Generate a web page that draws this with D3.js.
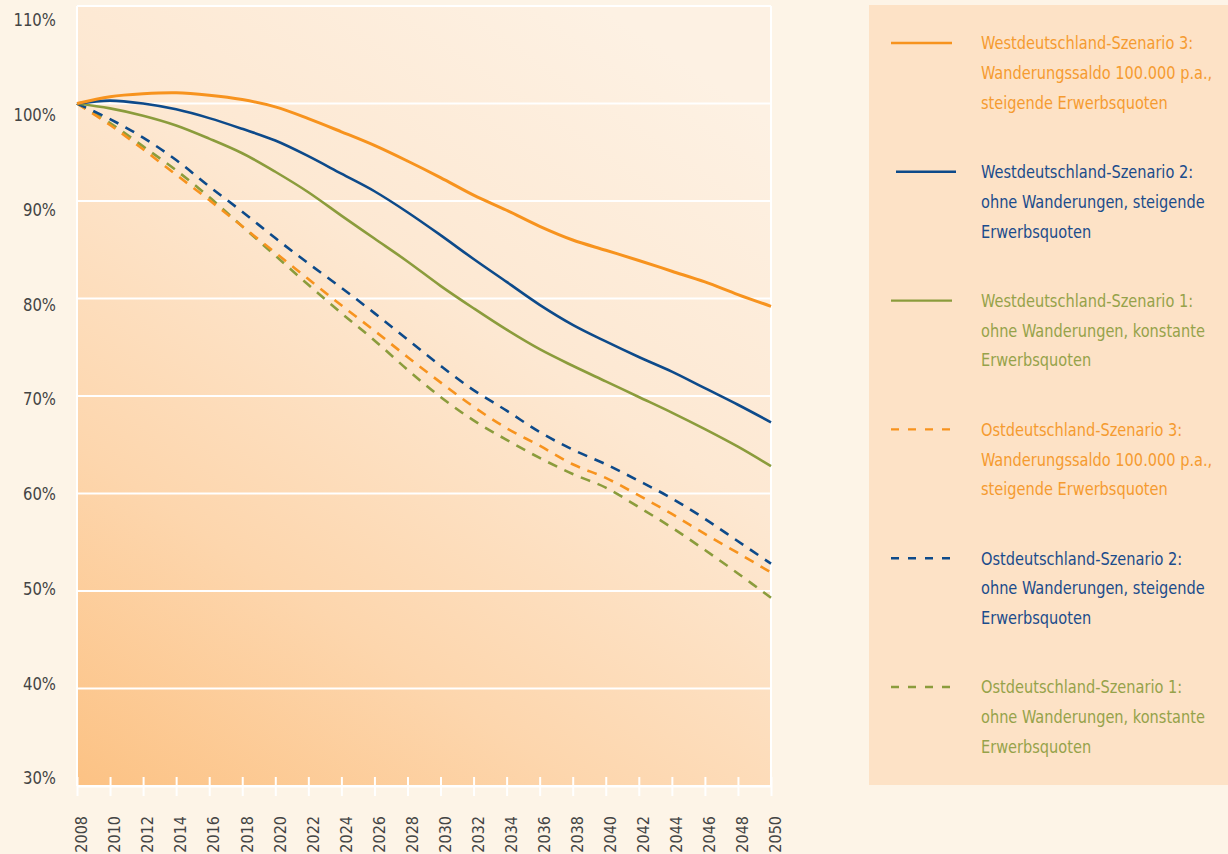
<!DOCTYPE html>
<html>
<head>
<meta charset="utf-8">
<script src="https://cdn.jsdelivr.net/npm/d3@7"></script>
<style>
  html, body { margin: 0; padding: 0; background: #fdf4e7; }
  svg { display: block; }
  text { font-family: "DejaVu Sans Condensed", "Liberation Sans Narrow", "Roboto", sans-serif; }
</style>
</head>
<body>
<svg id="chart" width="1228" height="854"></svg>
<script>
// ---- data ----
const years = [2008, 2010, 2012, 2014, 2016, 2018, 2020, 2022, 2024, 2026, 2028,
               2030, 2032, 2034, 2036, 2038, 2040, 2042, 2044, 2046, 2048, 2050];
const westS3 = [100.0, 100.7, 101.0, 101.1, 100.85, 100.4, 99.65, 98.45, 97.1, 95.7, 94.1,
                92.4, 90.6, 89.05, 87.4, 86.0, 84.95, 83.9, 82.8, 81.7, 80.4, 79.2];
const westS2 = [100.0, 100.3, 100.0, 99.4, 98.5, 97.4, 96.2, 94.6, 92.8, 91.0, 88.85,
                86.5, 84.05, 81.7, 79.35, 77.3, 75.6, 74.0, 72.5, 70.8, 69.1, 67.3];
const westS1 = [100.0, 99.5, 98.75, 97.75, 96.4, 94.9, 93.0, 90.9, 88.5, 86.15, 83.8,
                81.3, 79.0, 76.8, 74.8, 73.1, 71.5, 69.9, 68.3, 66.6, 64.8, 62.8];
const ostS3  = [100.0, 97.8, 95.3, 92.7, 90.1, 87.4, 84.7, 82.0, 79.3, 76.7, 74.0,
                71.4, 68.9, 66.7, 64.9, 63.0, 61.6, 59.8, 57.9, 55.85, 53.9, 51.9];
const ostS2  = [100.0, 98.4, 96.5, 94.2, 91.5, 88.9, 86.2, 83.6, 81.1, 78.5, 75.8,
                73.1, 70.6, 68.5, 66.3, 64.5, 63.0, 61.3, 59.5, 57.4, 55.1, 52.8];
const ostS1  = [100.0, 98.0, 95.6, 93.15, 90.4, 87.4, 84.4, 81.4, 78.5, 75.7, 72.7,
                69.9, 67.5, 65.5, 63.65, 62.0, 60.6, 58.6, 56.5, 54.2, 51.8, 49.3];
const yTicks = [30, 40, 50, 60, 70, 80, 90, 100, 110];
const yTickLabels = ["30%", "40%", "50%", "60%", "70%", "80%", "90%", "100%", "110%"];
const xTickLabels = years.map(String);
const seriesNames = [
  ["Westdeutschland-Szenario 3:", "Wanderungssaldo 100.000 p.a.,", "steigende Erwerbsquoten"],
  ["Westdeutschland-Szenario 2:", "ohne Wanderungen, steigende", "Erwerbsquoten"],
  ["Westdeutschland-Szenario 1:", "ohne Wanderungen, konstante", "Erwerbsquoten"],
  ["Ostdeutschland-Szenario 3:", "Wanderungssaldo 100.000 p.a.,", "steigende Erwerbsquoten"],
  ["Ostdeutschland-Szenario 2:", "ohne Wanderungen, steigende", "Erwerbsquoten"],
  ["Ostdeutschland-Szenario 1:", "ohne Wanderungen, konstante", "Erwerbsquoten"]
];
const seriesValues = [westS3, westS2, westS1, ostS3, ostS2, ostS1];

// ---- styles ----
const ORANGE = "#f7931e", BLUE = "#0d4a8a", GREEN = "#8b9c3c";
const textColors = ["#f59b30", "#1b4c8c", "#96a24a", "#f59b30", "#1b4c8c", "#96a24a"];
const lineColors = [ORANGE, BLUE, GREEN, ORANGE, BLUE, GREEN];
const dashed = [false, false, false, true, true, true];

const svg = d3.select("#chart");
const margin = { left: 77, right: 771, top: 6, bottom: 786 };

const x = d3.scaleLinear().domain([2008, 2050]).range([margin.left, margin.right]);
const y = d3.scaleLinear().domain([30, 110]).range([margin.bottom, margin.top]);
const yLabelPos = d3.scaleLinear().domain([30, 110]).range([778, 20]);

// gradient background of plot
const defs = svg.append("defs");
const grad = defs.append("linearGradient")
  .attr("id", "bg").attr("gradientUnits", "userSpaceOnUse")
  .attr("x1", margin.left).attr("y1", margin.bottom)
  .attr("x2", 600).attr("y2", margin.top);
[[0, "#fcc284"], [0.3, "#fdd6ad"], [0.65, "#fde8d2"], [1, "#fdf1e3"]].forEach(([o, c]) =>
  grad.append("stop").attr("offset", o).attr("stop-color", c));

svg.append("rect")
  .attr("x", margin.left).attr("y", margin.top)
  .attr("width", margin.right - margin.left).attr("height", margin.bottom - margin.top)
  .attr("fill", "url(#bg)");

// legend box
svg.append("rect").attr("x", 869).attr("y", 5).attr("width", 359).attr("height", 780)
  .attr("fill", "#fde2c6");

// gridlines
svg.append("g").selectAll("line").data(yTicks).join("line")
  .attr("x1", margin.left).attr("x2", margin.right)
  .attr("y1", d => y(d)).attr("y2", d => y(d))
  .attr("stroke", "#ffffff").attr("stroke-width", 2);

// plot frame: left & right borders
svg.append("line").attr("x1", x(2008)).attr("x2", x(2008)).attr("y1", y(110)).attr("y2", y(30))
  .attr("stroke", "#fff").attr("stroke-width", 2);
svg.append("line").attr("x1", x(2050)).attr("x2", x(2050)).attr("y1", y(110)).attr("y2", y(30))
  .attr("stroke", "#fff").attr("stroke-width", 2);

// x axis
const xAxis = d3.axisBottom(x).tickValues(years).tickFormat((d, i) => xTickLabels[i])
  .tickSize(10).tickSizeOuter(0);
const gx = svg.append("g").attr("transform", `translate(0,${margin.bottom})`).call(xAxis);
gx.select(".domain").attr("stroke", "#fff").attr("stroke-width", 2);
gx.selectAll(".tick line").attr("stroke", "#fff").attr("stroke-width", 2).attr("y1", -9);
gx.selectAll(".tick text")
  .attr("fill", "#444")
  .style("font-size", "16px")
  .attr("text-anchor", "end")
  .attr("transform", "rotate(-90)")
  .attr("x", -30).attr("y", 4).attr("dy", "0.36em").attr("dx", 0);

// y labels
svg.append("g").selectAll("text").data(yTicks).join("text")
  .attr("transform", d => `translate(56,${yLabelPos(d)}) scale(0.92,1)`)
  .attr("dy", "0.36em")
  .attr("text-anchor", "end").attr("fill", "#444").style("font-size", "18px")
  .text((d, i) => yTickLabels[i]);

// lines
const line = d3.line().x(d => x(d[0])).y(d => y(d[1])).curve(d3.curveCatmullRom.alpha(0.5));
const order = [5, 3, 4, 2, 1, 0];
svg.append("g").selectAll("path").data(order).join("path")
  .attr("d", i => line(years.map((yr, k) => [yr, seriesValues[i][k]])))
  .attr("fill", "none")
  .attr("stroke", i => lineColors[i])
  .attr("stroke-width", i => dashed[i] ? 2.6 : (i === 0 ? 3 : 2.6))
  .attr("stroke-dasharray", i => dashed[i] ? "10,8" : null)
  .attr("stroke-linecap", "butt");

// legend
const legY = d3.scalePoint().domain(d3.range(seriesNames.length)).range([43, 687]);
const lg = svg.append("g").selectAll("g").data(d3.range(seriesNames.length)).join("g")
  .attr("transform", i => `translate(0,${legY(i)})`);
lg.append("line")
  .attr("x1", i => i === 1 ? 896 : 891).attr("x2", i => i === 1 ? 956 : 952)
  .attr("y1", 0).attr("y2", 0)
  .attr("stroke", i => lineColors[i]).attr("stroke-width", 2.4)
  .attr("stroke-dasharray", i => dashed[i] ? "8,9" : null);
lg.append("text")
  .attr("transform", "translate(981,0) scale(0.9,1)")
  .attr("fill", i => textColors[i]).style("font-size", "18px")
  .selectAll("tspan").data(i => seriesNames[i]).join("tspan")
  .attr("x", 0).attr("y", (d, k) => k * 29.7).attr("dy", "0.36em")
  .text(d => d);
</script>
</body>
</html>
